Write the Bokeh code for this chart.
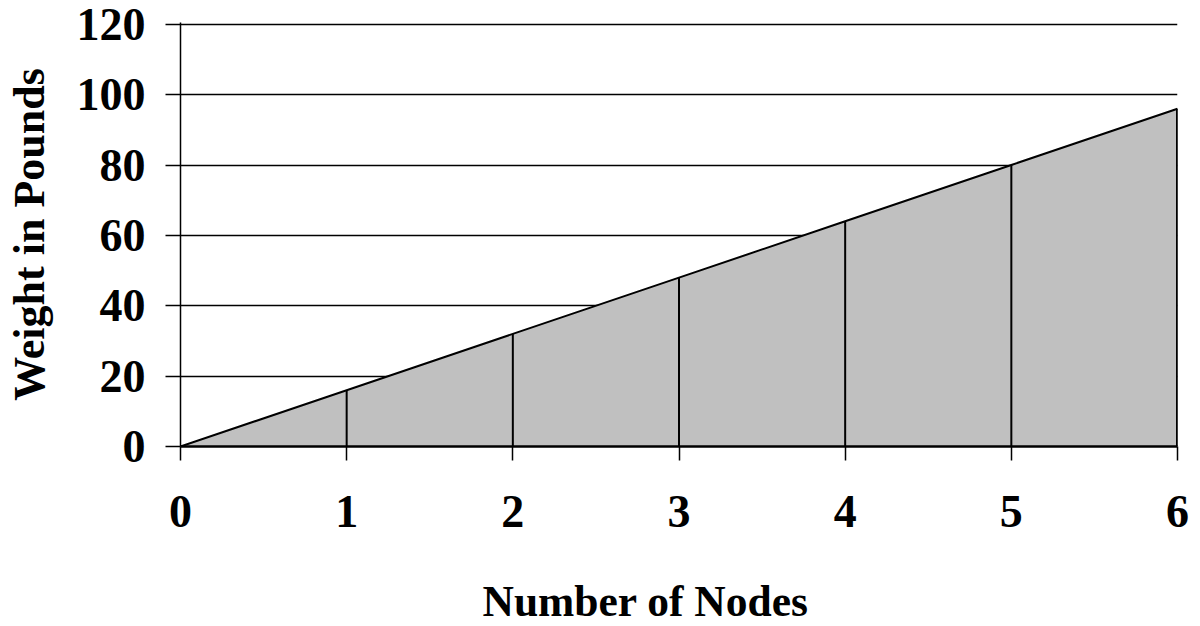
from bokeh.plotting import figure
from bokeh.models import Range1d, FixedTicker, Title, LinearAxis
from bokeh.embed import file_html
from bokeh.resources import INLINE

# Weight carried as nodes are added
nodes = [0, 1, 2, 3, 4, 5, 6]
weight = [0, 16, 32, 48, 64, 80, 96]
y_ticks = [0, 20, 40, 60, 80, 100, 120]

x_title = "Number of Nodes"
y_title = "Weight in Pounds"

FONT = "Liberation Serif"

p = figure(
    width=1200, height=626,
    x_range=Range1d(0, 6), y_range=Range1d(0, 120.5),
    output_backend="svg", toolbar_location=None,
    min_border_left=180, min_border_right=23,
    min_border_top=22, min_border_bottom=180,
)
p.outline_line_color = None
p.background_fill_color = "white"
p.border_fill_color = "white"

# shaded area under the weight line
p.varea(x=nodes, y1=[0] * len(nodes), y2=weight, fill_color="#C0C0C0")
# drop lines from each point to the baseline
p.segment(x0=nodes, y0=[0] * len(nodes), x1=nodes, y1=weight,
          line_color="black", line_width=2)
p.segment(x0=[nodes[-1]], y0=[0], x1=[nodes[-1]], y1=[weight[-1]],
          line_color="black", line_width=3)
p.line(x=nodes, y=weight, line_color="black", line_width=2)

# grid
p.xgrid.visible = False
p.ygrid.ticker = FixedTicker(ticks=y_ticks)
p.ygrid.grid_line_color = "black"
p.ygrid.grid_line_width = 1.5

# x axis
xa = p.xaxis[0]
xa.ticker = FixedTicker(ticks=nodes)
xa.axis_line_color = "black"
xa.axis_line_width = 2.5
xa.major_tick_line_color = "black"
xa.major_tick_line_width = 1.5
xa.major_tick_in = 0
xa.major_tick_out = 14
xa.minor_tick_line_color = None
xa.major_label_text_font = FONT
xa.major_label_text_font_style = "bold"
xa.major_label_text_font_size = "46px"
xa.major_label_text_color = "black"
xa.major_label_standoff = 35

# y axis
ya = p.yaxis[0]
ya.ticker = FixedTicker(ticks=y_ticks)
ya.axis_line_color = "black"
ya.axis_line_width = 1.5
ya.major_tick_line_color = "black"
ya.major_tick_line_width = 1.5
ya.major_tick_in = 0
ya.major_tick_out = 15
ya.minor_tick_line_color = None
ya.major_label_text_font = FONT
ya.major_label_text_font_style = "bold"
ya.major_label_text_font_size = "46px"
ya.major_label_text_color = "black"
ya.major_label_standoff = 20
ya.axis_label = y_title
ya.axis_label_text_font = FONT
ya.axis_label_text_font_style = "bold"
ya.axis_label_text_font_size = "44px"
ya.axis_label_text_color = "black"
ya.axis_label_standoff = 20

# blank band below the tick labels that spaces out the horizontal title
gap = LinearAxis(
    ticker=FixedTicker(ticks=[0]), axis_line_color=None,
    major_tick_line_color="white", minor_tick_line_color=None,
    major_tick_in=0, major_tick_out=41, minor_tick_in=0, minor_tick_out=0,
    major_label_standoff=0, major_label_text_font_size="1px",
    major_label_text_color="white",
)
p.add_layout(gap, "below")

# horizontal title, set slightly left of the frame centre
p.add_layout(Title(
    text=x_title, align="left", offset=302, standoff=0,
    text_font=FONT, text_font_style="bold", text_font_size="43.5px",
    text_color="black",
), "below")

open("out.html", "w").write(file_html(p, INLINE))
